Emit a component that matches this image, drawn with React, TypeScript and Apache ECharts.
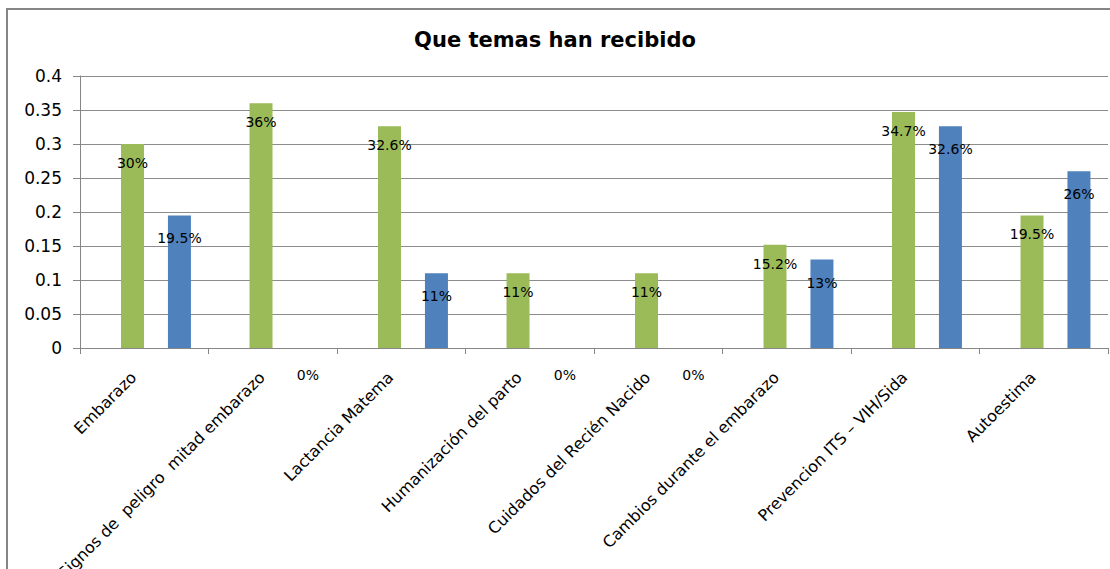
import React, { useEffect, useRef } from "react";
import * as echarts from "echarts";

const categories = [
  "Embarazo",
  "Signos de  peligro  mitad embarazo",
  "Lactancia Matema",
  "Humanización del parto",
  "Cuidados del Recién Nacido",
  "Cambios durante el embarazo",
  "Prevencion ITS – VIH/Sida",
  "Autoestima",
];
const greenValues = [0.3, 0.36, 0.326, 0.11, 0.11, 0.152, 0.347, 0.195];
const blueValues = [0.195, 0, 0.11, 0, 0, 0.13, 0.326, 0.26];
const yTicks = { min: 0, max: 0.4, interval: 0.05 };
const titleText = "Que temas han recibido";

const FONT = "DejaVu Sans";

const pct = (p: any) => `${+(p.value * 100).toFixed(1)}%`;

export default function App() {
  const ref = useRef<HTMLDivElement>(null);
  useEffect(() => {
    if (!ref.current) return;
    const chart = echarts.init(ref.current, undefined, { renderer: "svg" });
    const labelBase = {
      show: true,
      position: "insideTop",
      color: "#000",
      fontFamily: FONT,
      fontSize: 14,
      lineHeight: 16,
      formatter: pct,
    };
    chart.setOption({
      animation: false,
      backgroundColor: "#fff",
      title: {
        text: titleText,
        left: "center",
        top: 29,
        padding: [0, 0, 0, 12],
        textStyle: { fontFamily: FONT, fontSize: 21, fontWeight: "bold", color: "#000" },
      },
      graphic: [
        {
          type: "rect",
          shape: { x: 7, y: 9, width: 1120, height: 600 },
          style: { fill: "none", stroke: "#868686", lineWidth: 2 },
          silent: true,
        },
      ],
      grid: {
        left: 80,
        right: 2,
        top: 76,
        bottom: 221,
        containLabel: false,
        outerBoundsMode: "none",
      },
      xAxis: {
        type: "category",
        data: categories,
        axisLine: { show: true, lineStyle: { color: "#868686", width: 1 } },
        axisTick: { show: true, length: 6, interval: 0, lineStyle: { color: "#868686" } },
        axisLabel: {
          interval: 0,
          rotate: 45,
          margin: 16,
          padding: [0, 15, 0, 0],
          color: "#000",
          fontFamily: FONT,
          fontSize: 16,
        },
      },
      yAxis: {
        type: "value",
        min: yTicks.min,
        max: yTicks.max,
        interval: yTicks.interval,
        axisLine: { show: true, lineStyle: { color: "#868686", width: 1 } },
        axisTick: { show: true, length: 7, lineStyle: { color: "#868686" } },
        axisLabel: { margin: 18, color: "#000", fontFamily: FONT, fontSize: 17 },
        splitLine: { show: true, lineStyle: { color: "#8c8c8c", width: 1 } },
      },
      series: [
        {
          name: "spacer",
          type: "bar",
          data: categories.map(() => null),
          barWidth: 11.5,
          barGap: "104%",
          silent: true,
        },
        {
          name: "Recibido",
          type: "bar",
          data: greenValues,
          barWidth: 23,
          barGap: "104%",
          itemStyle: { color: "#9BBB59" },
          label: { ...labelBase, distance: 11 },
        },
        {
          name: "Recibido 2",
          type: "bar",
          data: blueValues.map((v) => (v === 0 ? { value: v, label: { offset: [0, 4] } } : v)),
          barWidth: 23,
          barGap: "104%",
          itemStyle: { color: "#4F81BD" },
          label: { ...labelBase, distance: 15 },
        },
      ],
    });
    return () => chart.dispose();
  }, []);
  return (
    <div
      ref={ref}
      style={{ position: "absolute", left: 0, top: 0, width: 1110, height: 569 }}
    />
  );
}
